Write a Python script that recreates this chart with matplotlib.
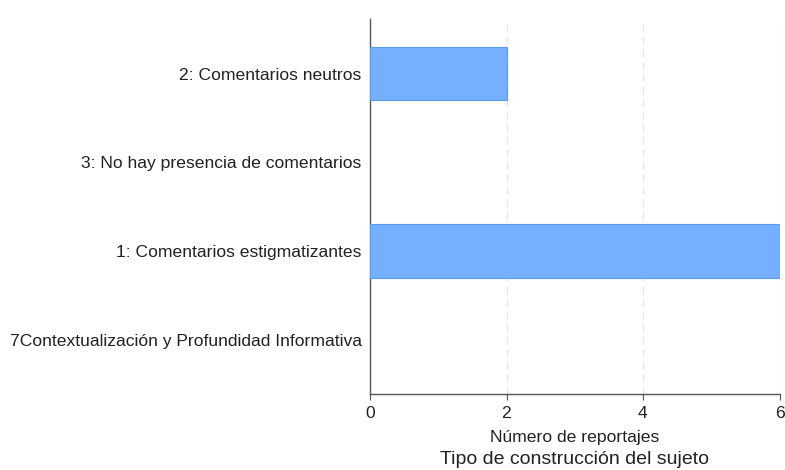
import matplotlib.pyplot as plt

plt.rcParams['font.family'] = ['Liberation Sans', 'DejaVu Sans']

# Categorías de construcción del sujeto (de arriba hacia abajo)
categorias = [
    "2: Comentarios neutros",
    "3: No hay presencia de comentarios",
    "1: Comentarios estigmatizantes",
    "7Contextualización y Profundidad Informativa",
]
reportajes = [2, 0, 6, 0]
ticks_x = [0, 2, 4, 6]

fig = plt.figure(figsize=(7.85, 4.70), dpi=100)
ax = fig.add_axes([370 / 785, 1 - 394 / 470, 409.5 / 785, 375 / 470])

pos = list(range(len(categorias)))[::-1]
for p, v in zip(pos, reportajes):
    if v > 0:
        ax.barh(p, v, height=0.6, color='#74b0ff', edgecolor='#5a9be8',
                linewidth=0.8, zorder=3)

ax.set_xlim(0, 6)
ax.set_ylim(-0.61, 3.614)
ax.set_yticks(pos)
ax.set_yticklabels(categorias, fontsize=12.6, color='#222222')
ax.tick_params(axis='y', length=0, pad=6)
ax.set_xticks(ticks_x)
ax.tick_params(axis='x', length=4, width=0.8, color='#555555', labelsize=12.6,
               labelcolor='#222222', pad=5)

for v in ticks_x[1:]:
    ax.axvline(v, color='#e6e6e6', linestyle=(0, (6, 4)), linewidth=0.9, zorder=1)

for s in ['top', 'right']:
    ax.spines[s].set_visible(False)
for s in ['left', 'bottom']:
    ax.spines[s].set_color('#555555')
    ax.spines[s].set_linewidth(1.0)

ax.set_xlabel("Número de reportajes", fontsize=12.6, color='#222222', labelpad=6)
fig.text((370 + 779.5) / 2 / 785, 1 - 459 / 470, "Tipo de construcción del sujeto",
         fontsize=14, color='#222222', ha='center', va='center')

fig.savefig('out.png', dpi=100)
